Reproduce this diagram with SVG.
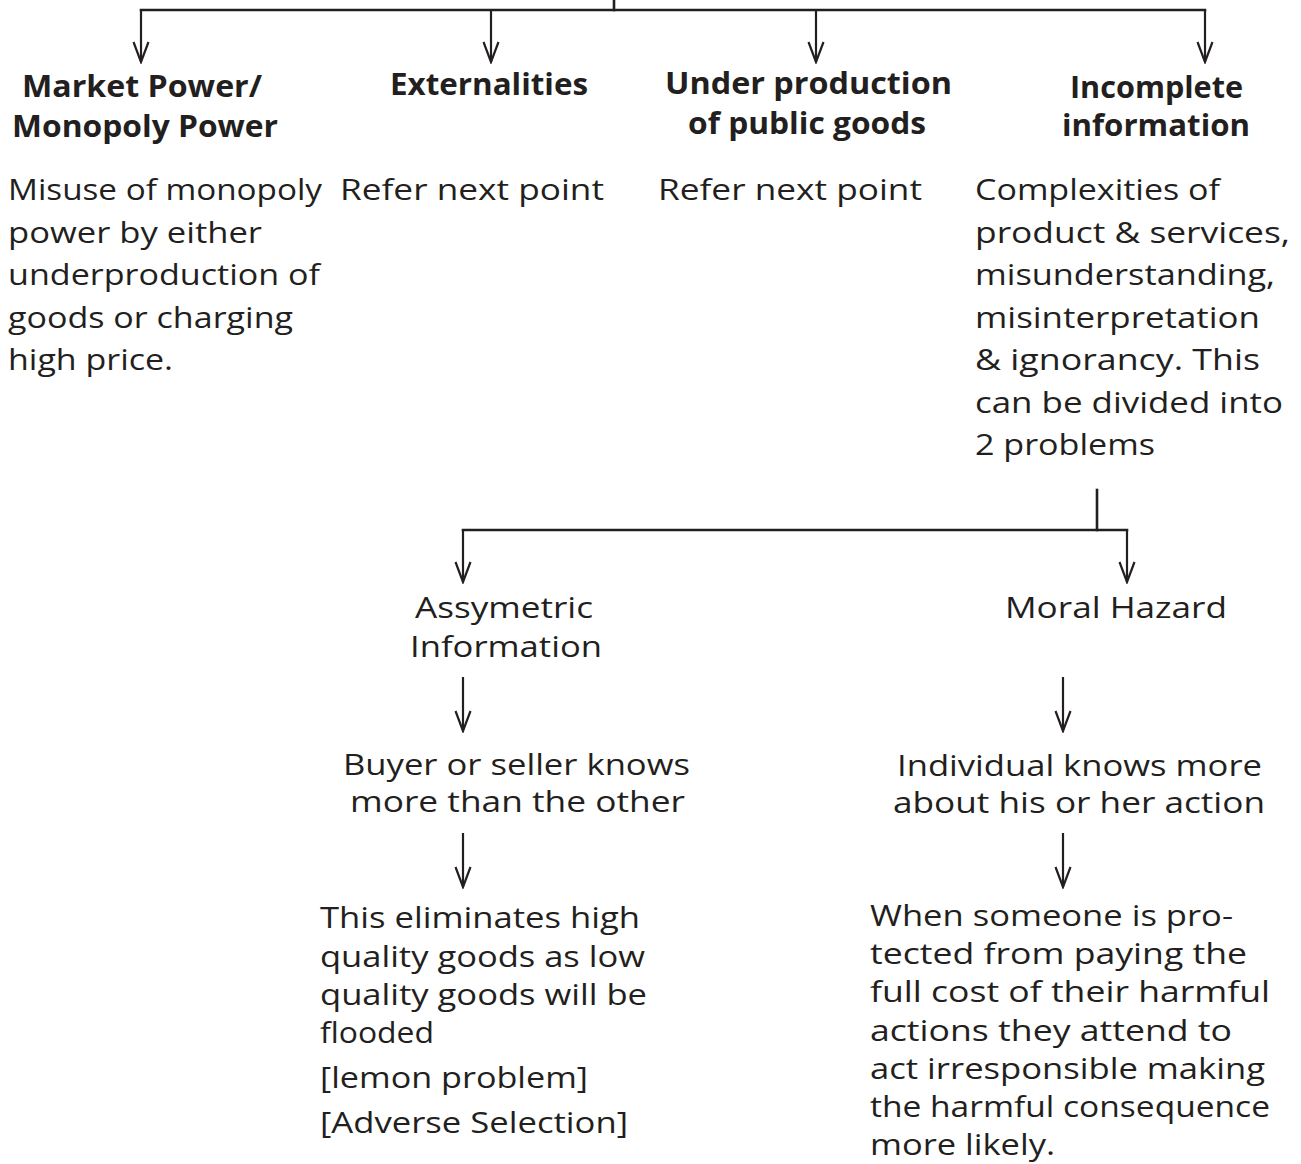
<svg xmlns="http://www.w3.org/2000/svg" width="1301" height="1164" viewBox="0 0 1301 1164">
  <defs>
    <!-- open V arrowhead, drawn along +x so orient="auto" turns it with the line -->
    <marker id="vhead" viewBox="-22 -10 24 20" refX="0" refY="0" markerWidth="24" markerHeight="20" markerUnits="userSpaceOnUse" orient="auto">
      <path d="M-20,-7.5 L0,0 L-20,7.5" fill="none" stroke="#231f20" stroke-width="2.2" stroke-linejoin="miter"/>
    </marker>
    <style>
      .ln { stroke: #231f20; stroke-width: 2.6; fill: none; stroke-linecap: square; }
      .ar { stroke: #231f20; stroke-width: 2.2; fill: none; marker-end: url(#vhead); }
      text { font-family: "Open Sans", "Noto Sans", "DejaVu Sans", sans-serif; fill: #231f20; font-size: 30px; }
      .hd { font-weight: bold; }
      .sm { font-size: 29px; }
    </style>
  </defs>
  <rect width="1301" height="1164" fill="#ffffff"/>

  <!-- connectors -->
  <g id="connectors">
    <!-- top branch -->
    <line class="ln" x1="614" y1="0" x2="614" y2="10"/>
    <line class="ln" x1="141" y1="10" x2="1205" y2="10"/>
    <line class="ar" x1="141" y1="10" x2="141" y2="62"/>
    <line class="ar" x1="491" y1="10" x2="491" y2="62"/>
    <line class="ar" x1="816" y1="10" x2="816" y2="62"/>
    <line class="ar" x1="1205" y1="10" x2="1205" y2="62"/>
    <!-- split of incomplete information -->
    <line class="ln" x1="1097" y1="490" x2="1097" y2="530"/>
    <line class="ln" x1="463" y1="530" x2="1127" y2="530"/>
    <line class="ar" x1="463" y1="530" x2="463" y2="582"/>
    <line class="ar" x1="1127" y1="530" x2="1127" y2="582"/>
    <!-- chains below -->
    <line class="ar" x1="463" y1="677" x2="463" y2="731"/>
    <line class="ar" x1="463" y1="833" x2="463" y2="887"/>
    <line class="ar" x1="1063" y1="677" x2="1063" y2="731"/>
    <line class="ar" x1="1063" y1="833" x2="1063" y2="887"/>
  </g>

  <!-- market power -->
  <g id="market-power">
    <text class="hd" x="22" y="97" textLength="240" lengthAdjust="spacingAndGlyphs">Market Power/</text>
    <text class="hd" x="12" y="137" textLength="266" lengthAdjust="spacingAndGlyphs">Monopoly Power</text>
  </g>
  <g id="market-power-desc">
    <text x="8" y="200" textLength="314" lengthAdjust="spacingAndGlyphs">Misuse of monopoly</text>
    <text x="8" y="243" textLength="254" lengthAdjust="spacingAndGlyphs">power by either</text>
    <text x="8" y="285" textLength="312" lengthAdjust="spacingAndGlyphs">underproduction of</text>
    <text x="8" y="328" textLength="285" lengthAdjust="spacingAndGlyphs">goods or charging</text>
    <text x="8" y="370" textLength="165" lengthAdjust="spacingAndGlyphs">high price.</text>
  </g>

  <!-- externalities -->
  <g id="externalities">
    <text class="hd" x="390" y="95" textLength="198" lengthAdjust="spacingAndGlyphs">Externalities</text>
  </g>
  <g id="externalities-desc">
    <text x="340" y="200" textLength="264" lengthAdjust="spacingAndGlyphs">Refer next point</text>
  </g>

  <!-- public goods -->
  <g id="public-goods">
    <text class="hd" x="665" y="94" textLength="287" lengthAdjust="spacingAndGlyphs">Under production</text>
    <text class="hd" x="688" y="134" textLength="238" lengthAdjust="spacingAndGlyphs">of public goods</text>
  </g>
  <g id="public-goods-desc">
    <text x="658" y="200" textLength="264" lengthAdjust="spacingAndGlyphs">Refer next point</text>
  </g>

  <!-- incomplete information -->
  <g id="incomplete-info">
    <text class="hd" x="1070" y="98" textLength="173" lengthAdjust="spacingAndGlyphs">Incomplete</text>
    <text class="hd" x="1062" y="136" textLength="188" lengthAdjust="spacingAndGlyphs">information</text>
  </g>
  <g id="incomplete-info-desc">
    <text x="975" y="200" textLength="245" lengthAdjust="spacingAndGlyphs">Complexities of</text>
    <text x="975" y="243" textLength="315" lengthAdjust="spacingAndGlyphs">product &amp; services,</text>
    <text x="975" y="285" textLength="300" lengthAdjust="spacingAndGlyphs">misunderstanding,</text>
    <text x="975" y="328" textLength="285" lengthAdjust="spacingAndGlyphs">misinterpretation</text>
    <text x="975" y="370" textLength="285" lengthAdjust="spacingAndGlyphs">&amp; ignorancy. This</text>
    <text x="975" y="413" textLength="308" lengthAdjust="spacingAndGlyphs">can be divided into</text>
    <text x="975" y="455" textLength="180" lengthAdjust="spacingAndGlyphs">2 problems</text>
  </g>

  <!-- asymmetric information branch -->
  <g id="asymmetric">
    <text x="415" y="618" textLength="178" lengthAdjust="spacingAndGlyphs">Assymetric</text>
    <text x="410" y="657" textLength="192" lengthAdjust="spacingAndGlyphs">Information</text>
  </g>
  <g id="asymmetric-knows">
    <text x="343" y="775" textLength="347" lengthAdjust="spacingAndGlyphs">Buyer or seller knows</text>
    <text x="350" y="812" textLength="335" lengthAdjust="spacingAndGlyphs">more than the other</text>
  </g>
  <g id="asymmetric-effect">
    <text x="320" y="928" textLength="320" lengthAdjust="spacingAndGlyphs">This eliminates high</text>
    <text x="320" y="967" textLength="325" lengthAdjust="spacingAndGlyphs">quality goods as low</text>
    <text x="320" y="1005" textLength="327" lengthAdjust="spacingAndGlyphs">quality goods will be</text>
    <text x="320" y="1043" textLength="114" lengthAdjust="spacingAndGlyphs">flooded</text>
    <text x="320" y="1088" textLength="268" lengthAdjust="spacingAndGlyphs">[lemon problem]</text>
    <text x="320" y="1133" textLength="308" lengthAdjust="spacingAndGlyphs">[Adverse Selection]</text>
  </g>

  <!-- moral hazard branch -->
  <g id="moral-hazard">
    <text x="1005" y="618" textLength="222" lengthAdjust="spacingAndGlyphs">Moral Hazard</text>
  </g>
  <g id="moral-hazard-knows">
    <text x="897" y="776" textLength="365" lengthAdjust="spacingAndGlyphs">Individual knows more</text>
    <text x="893" y="813" textLength="372" lengthAdjust="spacingAndGlyphs">about his or her action</text>
  </g>
  <g id="moral-hazard-effect">
    <text class="sm" x="870" y="926" textLength="363" lengthAdjust="spacingAndGlyphs">When someone is pro-</text>
    <text class="sm" x="870" y="964" textLength="377" lengthAdjust="spacingAndGlyphs">tected from paying the</text>
    <text class="sm" x="870" y="1002" textLength="400" lengthAdjust="spacingAndGlyphs">full cost of their harmful</text>
    <text class="sm" x="870" y="1041" textLength="362" lengthAdjust="spacingAndGlyphs">actions they attend to</text>
    <text class="sm" x="870" y="1079" textLength="395" lengthAdjust="spacingAndGlyphs">act irresponsible making</text>
    <text class="sm" x="870" y="1117" textLength="400" lengthAdjust="spacingAndGlyphs">the harmful consequence</text>
    <text class="sm" x="870" y="1155" textLength="185" lengthAdjust="spacingAndGlyphs">more likely.</text>
  </g>
</svg>
